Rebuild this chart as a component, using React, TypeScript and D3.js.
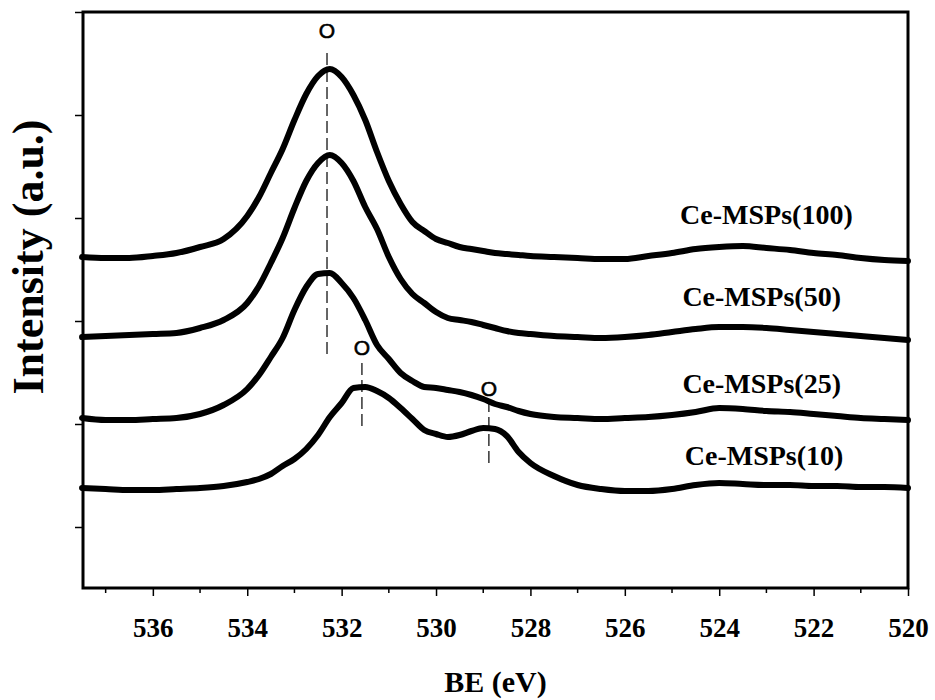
import React, { useEffect, useRef } from "react";
import * as d3 from "d3";

// binding energy grid (eV)
const be = [
  537.5, 537, 536.5, 536, 535.5, 535, 534.5, 534,
  533.75, 533.5, 533.25, 533, 532.75, 532.5, 532.25, 532, 531.75, 531.5, 531.25, 531,
  530.75, 530.5, 530.25, 530, 529.75, 529.5, 529.25, 529, 528.75, 528.5, 528.25, 528,
  527.5, 527, 526.5, 526, 525.5, 525, 524.5, 524, 523.5, 523, 522.5, 522, 521.5, 521, 520.5, 520,
];

// stacked intensities (a.u.)
const ce100 = [
  3.31, 3.3, 3.3, 3.32, 3.35, 3.41, 3.49, 3.72,
  3.91, 4.15, 4.39, 4.68, 4.94, 5.12, 5.19, 5.11, 4.93, 4.68, 4.36, 4.07,
  3.84, 3.66, 3.57, 3.49, 3.45, 3.41, 3.39, 3.37, 3.35, 3.34, 3.33, 3.32,
  3.31, 3.3, 3.29, 3.29, 3.32, 3.35, 3.39, 3.41, 3.42, 3.4, 3.38, 3.35, 3.33, 3.3, 3.28, 3.27,
];
const ce50 = [
  2.51, 2.52, 2.53, 2.54, 2.55, 2.6, 2.68, 2.85,
  3.02, 3.25, 3.5, 3.8, 4.07, 4.25, 4.33, 4.25, 4.07, 3.81, 3.59, 3.31,
  3.09, 2.94, 2.85, 2.76, 2.7, 2.68, 2.66, 2.63, 2.6, 2.57, 2.55, 2.54,
  2.52, 2.51, 2.5, 2.51, 2.53, 2.56, 2.59, 2.61, 2.61, 2.6, 2.58, 2.56, 2.54, 2.52, 2.5, 2.48,
];
const ce25 = [
  1.7, 1.68, 1.68, 1.69, 1.7, 1.74, 1.83, 1.99,
  2.13, 2.31, 2.5, 2.78, 3.01, 3.14, 3.15, 3.05, 2.9, 2.68, 2.43, 2.29,
  2.15, 2.07, 2.01, 2.0, 1.98, 1.96, 1.93, 1.89, 1.84, 1.81, 1.77, 1.74,
  1.71, 1.7, 1.69, 1.7, 1.71, 1.73, 1.76, 1.8, 1.79, 1.77, 1.76, 1.74, 1.72, 1.7, 1.69, 1.68,
];
const ce10 = [
  1.0, 0.99, 0.98, 0.98, 0.99, 1.0, 1.02, 1.06,
  1.09, 1.14, 1.22, 1.29, 1.39, 1.53, 1.71, 1.85, 2.0, 2.01, 1.97, 1.9,
  1.8, 1.69, 1.58, 1.54, 1.51, 1.53, 1.57, 1.6, 1.59, 1.52, 1.36, 1.25,
  1.12, 1.03, 0.99, 0.97, 0.97, 0.99, 1.03, 1.05, 1.04, 1.03, 1.03, 1.02, 1.02, 1.01, 1.01, 1.0,
];

const seriesNames = ["Ce-MSPs(100)", "Ce-MSPs(50)", "Ce-MSPs(25)", "Ce-MSPs(10)"];
const seriesValues = [ce100, ce50, ce25, ce10];
const labelBE = [523.0, 523.1, 523.1, 523.05];
const labelY = [3.64, 2.82, 1.95, 1.23];

const xMajor = [536, 534, 532, 530, 528, 526, 524, 522, 520];
const xMinor = [537, 535, 533, 531, 529, 527, 525, 523, 521];
const yTicks = [0.61, 1.64, 2.67, 3.7, 4.73, 5.76];

// peak markers: position, dashed segment range, label height
const markBE = [532.31, 531.57, 528.88];
const markFrom = [5.35, 2.25, 1.88];
const markTo = [2.33, 1.6, 1.25];
const markLabelY = [5.58, 2.41, 2.0];

const serif = "'Liberation Serif', 'Times New Roman', serif";
const sans = "'Liberation Sans', Arial, sans-serif";

function Chart() {
  const ref = useRef<SVGSVGElement>(null);

  useEffect(() => {
    const width = 935;
    const height = 700;
    const left = 83, right = 908, top = 12, bottom = 588;

    const svg = d3.select(ref.current);
    svg.selectAll("*").remove();
    svg.attr("width", width).attr("height", height);

    const x = d3.scaleLinear().domain([537.48, 520]).range([left, right]);
    const y = d3.scaleLinear().domain([0, 5.76]).range([bottom, top]);

    // x ticks
    const xAxis = svg.append("g").attr("transform", `translate(0,${bottom})`);
    xAxis
      .call(d3.axisBottom(x).tickValues(xMajor).tickSize(8).tickFormat(d3.format("d")))
      .call((g) => g.select(".domain").remove())
      .attr("font-family", serif)
      .attr("font-size", 27)
      .attr("font-weight", "bold");
    xAxis.selectAll("line").attr("stroke", "#000").attr("stroke-width", 1.5);
    xAxis.selectAll("text").attr("y", 49).attr("dy", 0).attr("fill", "#000");

    svg
      .append("g")
      .selectAll("line")
      .data(xMinor)
      .enter()
      .append("line")
      .attr("x1", (d) => x(d))
      .attr("x2", (d) => x(d))
      .attr("y1", bottom)
      .attr("y2", bottom + 5)
      .attr("stroke", "#000")
      .attr("stroke-width", 1.5);

    // y ticks (no labels)
    const yAxis = svg.append("g").attr("transform", `translate(${left},0)`);
    yAxis
      .call(d3.axisLeft(y).tickValues(yTicks).tickSize(8).tickFormat(() => ""))
      .call((g) => g.select(".domain").remove());
    yAxis.selectAll("line").attr("stroke", "#000").attr("stroke-width", 1.5);

    // frame
    svg
      .append("rect")
      .attr("x", left)
      .attr("y", top)
      .attr("width", right - left)
      .attr("height", bottom - top)
      .attr("fill", "none")
      .attr("stroke", "#000")
      .attr("stroke-width", 3);

    // spectra
    const line = d3
      .line<number>()
      .x((_, i) => x(be[i]))
      .y((d) => y(d))
      .curve(d3.curveMonotoneX);

    svg
      .append("g")
      .selectAll("path")
      .data(seriesValues)
      .enter()
      .append("path")
      .attr("d", (d) => line(d))
      .attr("fill", "none")
      .attr("stroke", "#000")
      .attr("stroke-width", 6)
      .attr("stroke-linejoin", "round")
      .attr("stroke-linecap", "round");

    // dashed peak markers
    const marks = svg.append("g");
    markBE.forEach((b, i) => {
      marks
        .append("line")
        .attr("x1", x(b))
        .attr("x2", x(b))
        .attr("y1", y(markFrom[i]))
        .attr("y2", y(markTo[i]))
        .attr("stroke", "#000")
        .attr("stroke-width", 1.2)
        .attr("stroke-dasharray", "12,5");
      marks
        .append("text")
        .attr("x", x(b))
        .attr("y", y(markLabelY[i]))
        .attr("text-anchor", "middle")
        .attr("dominant-baseline", "central")
        .attr("font-family", sans)
        .attr("font-size", 21)
        .attr("stroke", "#000")
        .attr("stroke-width", 0.6)
        .text("O");
    });

    // series labels
    svg
      .append("g")
      .attr("font-family", serif)
      .attr("font-weight", "bold")
      .attr("font-size", 28)
      .selectAll("text")
      .data(seriesNames)
      .enter()
      .append("text")
      .attr("x", (_, i) => x(labelBE[i]))
      .attr("y", (_, i) => y(labelY[i]))
      .attr("text-anchor", "middle")
      .text((d) => d);

    // axis titles
    svg
      .append("text")
      .attr("x", (left + right) / 2)
      .attr("y", 692)
      .attr("text-anchor", "middle")
      .attr("font-family", serif)
      .attr("font-weight", "bold")
      .attr("font-size", 30)
      .text("BE (eV)");

    svg
      .append("text")
      .attr("transform", `translate(43,257) rotate(-90)`)
      .attr("text-anchor", "middle")
      .attr("font-family", serif)
      .attr("font-weight", "bold")
      .attr("font-size", 44)
      .text("Intensity (a.u.)");
  }, []);

  return <svg ref={ref} style={{ position: "absolute", left: 0, top: 0, background: "#fff" }} />;
}

export default function App() {
  return <Chart />;
}
